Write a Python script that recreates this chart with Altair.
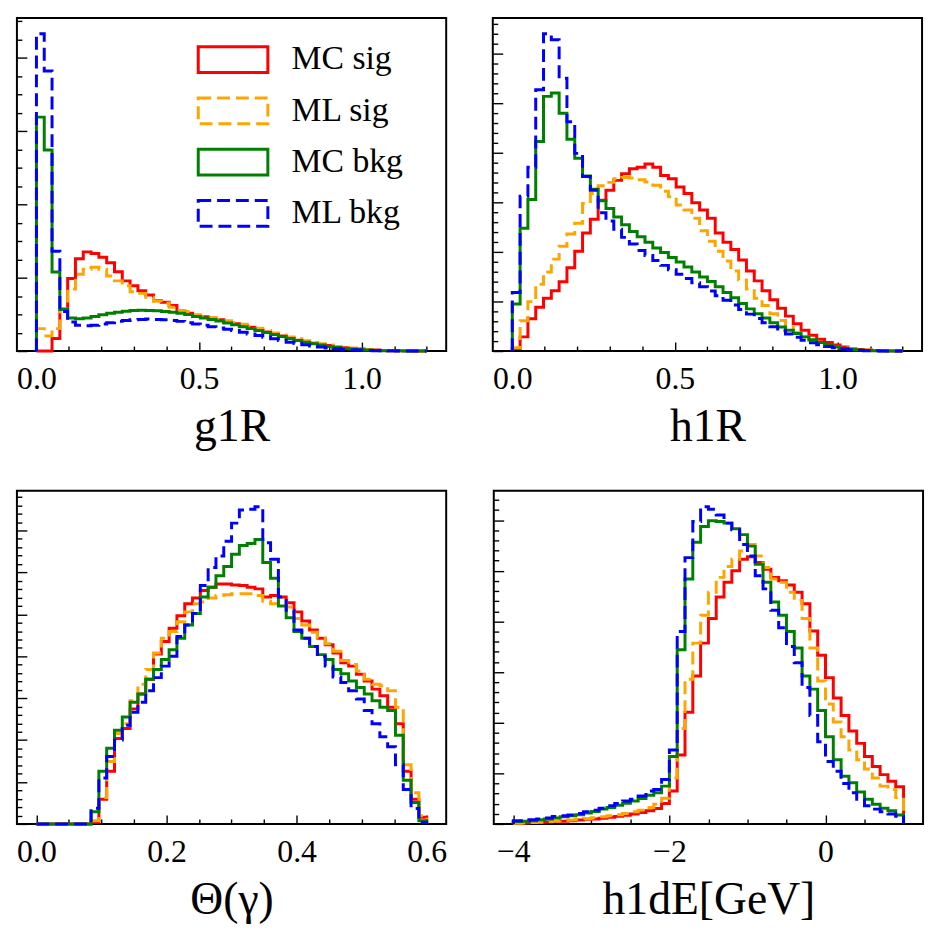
import altair as alt
import numpy as np
import pandas as pd

SERIES = ["MC sig", "ML sig", "MC bkg", "ML bkg"]
COLORS = ["#ff0000", "#ffa500", "#008000", "#0000ff"]
DASHES = [[1, 0], [13, 6], [1, 0], [13, 6]]
FONT = "Liberation Serif"
W, H = 433, 336

# ---------------- g1R (50 bins over 0..1.2) ----------------
G1R_RANGE = (0.0, 1.2)
g1r_mc_sig = [0, 0, 38, 128, 220, 280, 301, 296, 285, 268, 241, 213, 198, 183, 170, 153, 148, 138, 123, 115,
              108, 104, 100, 95, 88, 83, 78, 72, 65, 58, 52, 46, 40, 33, 28, 24, 20, 17, 13, 10,
              8, 6, 4, 3, 2, 1, 1, 0.5, 0, 0]
g1r_ml_sig = [68, 46, 68, 128, 188, 233, 248, 254, 248, 228, 213, 198, 180, 175, 163, 151, 146, 133, 123, 120,
              110, 106, 101, 96, 92, 87, 81, 75, 69, 62, 55, 49, 43, 37, 31, 26, 22, 18, 14, 11,
              9, 7, 5, 3, 2, 1.5, 1, 0.5, 0, 0]
g1r_mc_bkg = [710, 610, 240, 126, 100, 98, 100, 105, 110, 115, 118, 121, 123, 124, 123, 122, 120, 118, 115, 111,
              105, 100, 96, 91, 85, 80, 74, 68, 62, 56, 50, 44, 38, 32, 27, 22, 18, 14, 11, 8,
              6, 4, 3, 2, 1, 1, 0.5, 0, 0, 0]
g1r_ml_bkg = [963, 850, 303, 120, 88, 78, 77, 78, 82, 86, 90, 93, 95, 96, 97, 96, 95, 93, 90, 86,
              82, 78, 74, 70, 66, 62, 57, 52, 47, 42, 37, 32, 27, 23, 19, 15, 12, 9, 7, 5,
              4, 3, 2, 1, 1, 0.5, 0, 0, 0, 0]

# ---------------- h1R (50 bins over 0..1.2) ----------------
H1R_RANGE = (0.0, 1.2)
h1r_mc_sig = [8, 43, 98, 133, 160, 183, 210, 253, 303, 358, 400, 458, 488, 518, 538, 553, 558, 568, 558, 533,
              523, 498, 478, 450, 428, 403, 358, 330, 308, 276, 243, 213, 183, 156, 130, 106, 83, 63, 48, 36,
              26, 18, 12, 8, 5, 3, 2, 1, 0.5, 0]
h1r_ml_sig = [10, 92, 150, 203, 240, 279, 318, 355, 388, 448, 478, 502, 512, 523, 527, 525, 520, 513, 503, 485,
              468, 443, 428, 403, 365, 333, 303, 273, 243, 216, 188, 160, 138, 113, 93, 73, 56, 43, 33, 26,
              18, 13, 10, 7, 5, 3, 2, 1, 0.5, 0]
h1r_mc_bkg = [143, 373, 460, 636, 773, 783, 722, 643, 585, 531, 491, 456, 433, 407, 383, 363, 347, 330, 313, 299,
              284, 270, 255, 240, 225, 211, 195, 178, 162, 144, 128, 113, 100, 86, 73, 63, 53, 43, 34, 26,
              19, 13, 8, 5, 3, 2, 1, 0.5, 0, 0]
h1r_ml_bkg = [178, 470, 558, 793, 963, 945, 828, 696, 600, 530, 488, 420, 395, 370, 345, 325, 305, 290, 275, 260,
              247, 233, 220, 207, 195, 182, 168, 154, 140, 126, 112, 99, 86, 74, 62, 52, 42, 33, 25, 19,
              14, 10, 6, 4, 2, 1, 0.5, 0, 0, 0]

# ---------------- Theta(gamma) (50 bins over 0..0.6) ----------------
TH_RANGE = (0.0, 0.6)
th_mc_sig = [0, 0, 0, 0, 0, 0, 0, 5, 75, 160, 260, 290, 350, 395, 440, 517, 555, 595, 633, 670,
             687, 710, 720, 730, 730, 727, 725, 720, 715, 690, 695, 690, 673, 645, 617, 590, 565, 545, 520, 490,
             480, 455, 435, 410, 390, 355, 305, 160, 75, 20]
th_ml_sig = [0, 0, 0, 0, 0, 0, 0, 10, 80, 190, 275, 305, 375, 425, 470, 520, 565, 585, 615, 645,
             670, 675, 687, 695, 697, 700, 700, 700, 695, 677, 670, 675, 660, 625, 605, 583, 565, 548, 525, 497,
             485, 465, 440, 425, 420, 405, 355, 180, 95, 25]
th_mc_bkg = [0, 0, 0, 0, 0, 0, 0, 37, 160, 230, 285, 325, 370, 395, 440, 470, 500, 530, 565, 605,
             640, 690, 720, 755, 783, 820, 847, 853, 865, 795, 747, 663, 627, 585, 565, 540, 515, 500, 470, 457,
             435, 415, 395, 375, 355, 345, 270, 133, 65, 10]
th_ml_bkg = [0, 0, 0, 0, 0, 0, 0, 48, 140, 205, 255, 300, 340, 370, 405, 445, 480, 510, 570, 605,
             640, 725, 780, 815, 860, 915, 955, 957, 965, 855, 805, 690, 650, 590, 565, 540, 510, 480, 447, 430,
             405, 380, 345, 305, 265, 235, 180, 105, 47, 5]

# ---------------- h1dE (50 bins over -4..1) ----------------
DE_RANGE = (-4.0, 1.0)
de_mc_sig = [2, 3, 4, 5, 6, 7, 8, 10, 12, 14, 15, 17, 20, 23, 26, 30, 35, 40, 47, 62,
             100, 210, 340, 450, 550, 625, 690, 735, 770, 805, 813, 795, 775, 750, 740, 727, 705, 670, 587, 513,
             445, 383, 330, 283, 245, 205, 175, 150, 130, 113]
de_ml_sig = [2, 3, 4, 5, 7, 8, 10, 12, 14, 16, 19, 22, 25, 28, 32, 37, 42, 50, 60, 78,
             140, 290, 440, 550, 635, 705, 750, 783, 805, 830, 850, 815, 780, 745, 735, 705, 680, 625, 535, 435,
             365, 310, 265, 225, 195, 167, 140, 115, 105, 80]
de_mc_bkg = [7, 8, 10, 13, 15, 18, 22, 25, 28, 33, 38, 45, 50, 57, 63, 70, 77, 87, 95, 115,
             205, 530, 745, 857, 905, 922, 920, 915, 898, 880, 845, 790, 735, 675, 635, 585, 535, 450, 410, 345,
             265, 195, 145, 125, 97, 75, 60, 48, 40, 27]
de_ml_bkg = [10, 10, 13, 15, 18, 23, 25, 27, 32, 37, 42, 48, 55, 62, 70, 75, 85, 100, 105, 135,
             225, 585, 810, 920, 965, 957, 940, 915, 895, 850, 815, 755, 715, 650, 597, 540, 490, 415, 330, 250,
             190, 160, 123, 95, 75, 55, 45, 37, 30, 23]

N_BINS = 50


def hist_frame(rng, series_vals):
    edges = np.linspace(rng[0], rng[1], N_BINS + 1)
    rows = []
    for s, vals in zip(SERIES, series_vals):
        pts = [(edges[0], 0.0)]
        for i, v in enumerate(vals):
            pts.append((edges[i], v))
            pts.append((edges[i + 1], v))
        pts.append((edges[-1], 0.0))
        for j, (x, y) in enumerate(pts):
            rows.append({"series": s, "x": float(x), "y": float(y), "i": j})
    return pd.DataFrame(rows)


def major_test(step):
    return f"abs(datum.value / {step} - round(datum.value / {step})) < 1e-6"


def panel(rng, series_vals, xdom, xmajor, xminor_step, xmajor_step, yminor_step, ymajor_every,
          xtitle, xfmt, legend):
    df = hist_frame(rng, series_vals)
    ymax = 1.05 * df["y"].max()
    xticks = [round(v, 4) for v in np.arange(rng[0], rng[1] + 1e-9, xminor_step)]
    n_y = int(np.floor(ymax / yminor_step)) + 1
    yticks = [round(k * yminor_step, 6) for k in range(n_y)]
    ymajor_step = yminor_step * ymajor_every

    xscale = alt.Scale(domain=xdom, nice=False, zero=False)
    yscale = alt.Scale(domain=[0, ymax], nice=False, zero=True)

    label_axis = alt.Axis(orient="bottom", values=xmajor, format=xfmt, ticks=False, domain=False,
                          grid=False, labelFontSize=32, labelPadding=13, labelFlush=False,
                          labelFont=FONT, labelColor="black", title=xtitle, titleFont=FONT,
                          titleFontSize=46, titleFontWeight="normal", titleColor="black",
                          titlePadding=10)
    xtick_axis = alt.Axis(orient="top", offset=-H, values=xticks, labels=False, domain=False,
                          grid=False, title=None, tickColor="black", tickWidth=1.4,
                          tickSize={"condition": {"test": major_test(xmajor_step), "value": 9},
                                    "value": 5})
    ytick_axis = alt.Axis(orient="right", offset=-W, values=yticks, labels=False, domain=False,
                          grid=False, title=None, tickColor="black", tickWidth=1.4,
                          tickSize={"condition": {"test": major_test(ymajor_step), "value": 10},
                                    "value": 5})

    if legend:
        leg = alt.Legend(title=None, orient="none", legendX=201, legendY=25,
                         symbolType="M-2.7,-1H2.7V1H-2.7Z", symbolSize=676,
                         symbolStrokeWidth=3, symbolFillColor="transparent",
                         labelFont=FONT, labelFontSize=34, labelColor="black",
                         labelOffset=42, rowPadding=13.7, padding=0)
    else:
        leg = None

    ghost = alt.Chart(df).mark_point(opacity=0).encode(
        x=alt.X("x:Q", scale=xscale, axis=xtick_axis),
        y=alt.Y("y:Q", scale=yscale, axis=None),
    )
    lines = alt.Chart(df).mark_line(strokeWidth=3, strokeJoin="miter", strokeCap="butt").encode(
        x=alt.X("x:Q", scale=xscale, axis=label_axis),
        y=alt.Y("y:Q", scale=yscale, axis=ytick_axis),
        color=alt.Color("series:N", scale=alt.Scale(domain=SERIES, range=COLORS), legend=leg),
        strokeDash=alt.StrokeDash("series:N", scale=alt.Scale(domain=SERIES, range=DASHES), legend=leg),
        order=alt.Order("i:Q"),
    )
    return alt.layer(ghost, lines).resolve_axis(x="independent", y="independent").properties(
        width=W, height=H)


p1 = panel(G1R_RANGE, [g1r_mc_sig, g1r_ml_sig, g1r_mc_bkg, g1r_ml_bkg], [-0.06, 1.26],
           [0.0, 0.5, 1.0], 0.1, 0.5, 55.6, 4, "g1R", ".1f", True)
p2 = panel(H1R_RANGE, [h1r_mc_sig, h1r_ml_sig, h1r_mc_bkg, h1r_ml_bkg], [-0.06, 1.26],
           [0.0, 0.5, 1.0], 0.1, 0.5, 30.1, 5, "h1R", ".1f", False)
p3 = panel(TH_RANGE, [th_mc_sig, th_ml_sig, th_mc_bkg, th_ml_bkg], [-0.03, 0.63],
           [0.0, 0.2, 0.4, 0.6], 0.05, 0.2, 25.5, 5, "Θ(γ)", ".1f", False)
p4 = panel(DE_RANGE, [de_mc_sig, de_ml_sig, de_mc_bkg, de_ml_bkg], [-4.25, 1.25],
           [-4, -2, 0], 0.5, 2, 30.8, 5, "h1dE[GeV]", "d", False)

row1 = alt.hconcat(p1, p2, spacing=44).resolve_scale(color="independent", strokeDash="independent")
row2 = alt.hconcat(p3, p4, spacing=44).resolve_scale(color="independent", strokeDash="independent")

chart = alt.vconcat(row1, row2, spacing=40).resolve_scale(
    color="independent", strokeDash="independent"
).properties(
    padding={"left": 7, "top": 5, "right": 5, "bottom": 5}
).configure(
    font=FONT, background="white"
).configure_view(
    stroke="black", strokeWidth=2
)

chart.save("out.html", embed_options={"renderer": "svg", "actions": False})
